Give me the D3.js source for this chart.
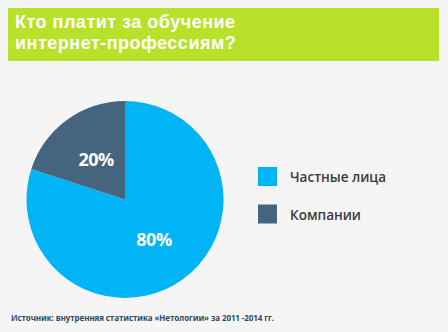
<!DOCTYPE html>
<html>
<head>
<meta charset="utf-8">
<script src="https://cdn.jsdelivr.net/npm/d3@7"></script>
<style>
  html, body { margin: 0; padding: 0; background: #f5f5f5; }
  svg { display: block; }
</style>
</head>
<body>
<svg id="chart" width="448" height="332"></svg>
<script>
// Who pays for online-profession training
const categories = ["Частные лица", "Компании"];
const values = [80, 20];
const colors = ["#00b4f6", "#45657e"];
const titleLines = ["Кто платит за обучение", "интернет-профессиям?"];
const sourceText = "Источник: внутренняя статистика «Нетологии» за 2011 -2014 гг.";

const svg = d3.select("#chart");
const W = 448, H = 332;

svg.append("rect").attr("width", W).attr("height", H).attr("fill", "#f5f5f5");

// Title band
svg.append("rect")
  .attr("x", 8).attr("y", 8).attr("width", 431).attr("height", 53)
  .attr("fill", "#b8e229");

svg.append("g").selectAll("text")
  .data(titleLines)
  .join("text")
  .attr("x", 15)
  .attr("y", (d, i) => 28 + i * 21)
  .attr("fill", "#ffffff")
  .attr("font-family", "'Liberation Sans', Arial, sans-serif")
  .attr("font-weight", 700)
  .attr("font-size", 18)
  .attr("letter-spacing", 0.5)
  .text(d => d);

// Pie
const cx = 125, cy = 199.5, r = 98.5;
const pie = d3.pie().sort(null).value(d => d);
const arc = d3.arc().innerRadius(0).outerRadius(r);
const labelArc = d3.arc().innerRadius(0).outerRadius(r);

const g = svg.append("g").attr("transform", `translate(${cx},${cy})`);
const arcs = pie(values);

g.selectAll("path")
  .data(arcs)
  .join("path")
  .attr("d", arc)
  .attr("fill", (d, i) => colors[i]);

g.selectAll("text")
  .data(arcs)
  .join("text")
  .attr("transform", d => {
    const [x, y] = labelArc.centroid(d);
    return `translate(${x},${y})`;
  })
  .attr("text-anchor", "middle")
  .attr("dy", "0.36em")
  .attr("fill", "#ffffff")
  .attr("font-family", "'Open Sans', 'DejaVu Sans', sans-serif")
  .attr("font-weight", 700)
  .attr("font-size", 18)
  .attr("letter-spacing", -0.5)
  .text(d => d.data + "%");

// Legend
const legend = svg.append("g").attr("transform", "translate(258,167)");
const item = legend.selectAll("g")
  .data(categories)
  .join("g")
  .attr("transform", (d, i) => `translate(0,${i * 37.5})`);

item.append("rect")
  .attr("width", 19).attr("height", 19)
  .attr("fill", (d, i) => colors[i]);

item.append("text")
  .attr("x", 32).attr("y", 15)
  .attr("fill", "#3a3a3a")
  .attr("font-family", "'Open Sans', 'DejaVu Sans', sans-serif")
  .attr("font-weight", 600)
  .attr("font-size", 13.5)
  .text(d => d);

// Source note
svg.append("text")
  .attr("x", 11).attr("y", 321)
  .attr("fill", "#2f4a5f")
  .attr("font-family", "'Open Sans', 'DejaVu Sans', sans-serif")
  .attr("font-weight", 700)
  .attr("font-size", 8)
  .attr("letter-spacing", -0.1)
  .text(sourceText);
</script>
</body>
</html>
